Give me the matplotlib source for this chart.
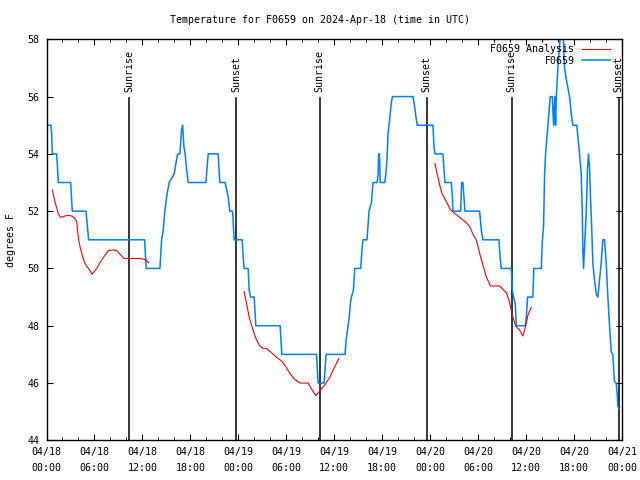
import matplotlib
matplotlib.use("Agg")
import matplotlib.pyplot as plt
import matplotlib.dates as mdates
import numpy as np
import pandas as pd

_BLUE = "#0080ff"
_RED = "#ff0000"
_FONT = "DejaVu Sans Mono"
_FS = 7.2

START = pd.Timestamp("2024-04-18 00:00")

# station observations: hours after 04/18 00:00 UTC, degrees F
obs_hours = [
    0.23, 0.56, 0.65, 0.73, 1.27, 1.48, 3.02, 3.23, 4.94, 5.27, 12.27, 12.48,
    14.19, 14.40, 14.60, 14.81, 15.03, 15.35, 15.98, 16.19, 16.40, 16.69, 16.90,
    17.03, 17.19, 17.35, 17.53, 17.73, 19.94, 20.23, 21.48, 21.69, 22.35, 22.73,
    22.94, 23.28, 23.48, 24.48, 24.63, 24.73, 25.23, 25.35, 25.53, 25.98, 26.19,
    29.23, 29.44, 33.78, 33.98, 34.73, 34.98, 37.35, 37.48, 37.73, 37.85, 38.03,
    38.15, 38.40, 38.56, 39.31, 39.48, 39.60, 40.10, 40.35, 40.65, 40.78, 40.85,
    41.35, 41.48, 41.56, 41.65, 41.75, 42.31, 42.44, 42.60, 42.73, 42.85, 43.03,
    43.15, 43.28, 45.85, 46.06, 46.19, 46.38, 48.35, 48.48, 48.60, 49.60, 49.73,
    49.85, 50.65, 50.78, 50.85, 51.81, 51.94, 52.10, 52.35, 54.19, 54.40, 54.60,
    56.60, 56.78, 56.90, 58.15, 58.28, 58.44, 58.65, 58.78, 59.90, 60.03, 60.19,
    60.85, 60.97, 61.90, 62.03, 62.19, 62.31, 62.44, 62.73, 63.03, 63.28, 63.44,
    63.60, 63.69, 63.78, 63.98, 64.19, 64.40, 64.60, 64.81, 65.03, 65.23, 65.44,
    65.65, 65.85, 66.35, 66.48, 66.69, 66.90, 67.03, 67.10, 67.19, 67.31, 67.53,
    67.69, 67.81, 67.94, 68.06, 68.19, 68.35, 68.56, 68.78, 68.98, 69.19, 69.40,
    69.60, 69.81, 70.03, 70.23, 70.44, 70.65, 70.85, 71.06, 71.28, 71.40, 71.48,
    71.60,
]
obs_temp = [
    55, 55, 54.7, 54, 54, 53, 53, 52, 52, 51, 51, 50,
    50, 51, 51.33, 52, 52.5, 53, 53.3, 53.67, 54, 54, 54.83,
    55, 54.25, 54, 53.44, 53, 53, 54, 54, 53, 53, 52.5,
    52, 52, 51, 51, 50.3, 50, 50, 49.25, 49, 49, 48,
    48, 47, 47, 46, 46, 47, 47, 47.5, 48, 48.25, 48.8,
    49, 49.25, 50, 50, 50.7, 51, 51, 52, 52.3, 52.75, 53,
    53, 53.25, 54, 54, 53, 53, 53.25, 53.8, 54.7, 55, 55.5,
    55.8, 56, 56, 55.65, 55.35, 55, 55, 54.25, 54, 54, 53.44,
    53, 53, 52.5, 52, 52, 53, 53, 52, 52, 51.33, 51,
    51, 50.3, 50, 50, 49.25, 49, 48.75, 48, 48, 48.3, 49,
    49, 50, 50, 50.93, 51.5, 53.26, 54, 55, 56, 56, 55,
    56, 55, 56, 57, 57.8, 58.5, 58.5, 57, 56.6, 56.3, 56,
    55.4, 55, 55, 54.6, 54, 53.3, 52, 50.7, 50, 50.7, 52,
    53.5, 54, 53.5, 52.45, 51.6, 50.2, 49.6, 49.1, 49, 49.6, 50.2,
    51, 51, 50.2, 49, 48, 47.1, 47, 46.05, 46, 45.6, 45.2,
    45.1,
]

# analysis runs, three separate pieces
ana_hours = [
    [0.73, 1.06, 1.48, 1.78, 2.31, 2.73, 3.15, 3.56, 3.78, 3.98, 4.19, 4.53,
     4.81, 5.23, 5.73, 6.28, 6.90, 7.73, 8.35, 8.78, 9.19, 9.69, 11.69, 12.44,
     12.78],
    [24.73, 25.03, 25.35, 25.78, 26.19, 26.69, 27.10, 27.53, 28.15, 28.78,
     29.40, 29.94, 30.44, 31.06, 31.69, 32.73, 33.15, 33.69, 34.19, 34.81,
     35.44, 36.06, 36.60],
    [48.60, 48.85, 49.19, 49.48, 50.03, 50.53, 50.94, 51.48, 52.10, 52.53,
     52.94, 53.35, 53.78, 54.19, 54.60, 55.03, 55.53, 56.69, 57.10, 57.53,
     57.85, 58.15, 58.35, 58.69, 59.19, 59.60, 59.94, 60.23, 60.65],
]
ana_temp = [
    [52.74, 52.33, 51.9, 51.78, 51.83, 51.86, 51.83, 51.75, 51.63, 51.1,
     50.76, 50.4, 50.18, 50.0, 49.8, 50.0, 50.3, 50.62, 50.65, 50.62, 50.5,
     50.35, 50.35, 50.3, 50.2],
    [49.19, 48.78, 48.31, 47.9, 47.56, 47.29, 47.21, 47.2, 47.06, 46.9,
     46.77, 46.57, 46.34, 46.13, 46.0, 46.0, 45.8, 45.56, 45.72, 45.93,
     46.2, 46.57, 46.86],
    [53.67, 53.32, 52.91, 52.62, 52.33, 52.06, 51.95, 51.83, 51.69, 51.6,
     51.46, 51.2, 50.99, 50.53, 50.12, 49.71, 49.39, 49.39, 49.27, 49.15,
     48.9, 48.55, 48.31, 47.99, 47.85, 47.64, 47.97, 48.37, 48.64],
]

sun_hours = [10.35, 23.70, 34.20, 47.55, 58.20, 71.60]
sun_labels = ["Sunrise", "Sunset", "Sunrise", "Sunset", "Sunrise", "Sunset"]


def _at(hours):
    return START + pd.to_timedelta(np.asarray(hours), unit="h")


fig = plt.figure(figsize=(6.4, 4.8), dpi=100, facecolor="white")
ax = fig.add_axes([46.5 / 640, 1 - 440.3 / 480, 575.5 / 640, 401 / 480])

for i, (h, t) in enumerate(zip(ana_hours, ana_temp)):
    ax.plot(_at(h), t, color=_RED, lw=0.8,
            label="F0659 Analysis" if i == 0 else None, zorder=3)
ax.plot(_at(obs_hours), obs_temp, color=_BLUE, lw=1.1, label="F0659", zorder=2)

for h, lab in zip(sun_hours, sun_labels):
    ax.plot(_at([h, h]), [44, 55.95], color="black", lw=1.1, zorder=1)
    ax.text(_at([h])[0], 56.15, lab, rotation=90, ha="center", va="bottom",
            fontsize=_FS, family=_FONT)

ax.set_xlim(_at([0])[0], _at([72])[0])
ax.set_ylim(44, 58)
ax.set_yticks(np.arange(44, 59, 2))

ax.xaxis.set_major_locator(mdates.HourLocator(byhour=range(0, 24, 6)))
ax.xaxis.set_minor_locator(mdates.HourLocator(byhour=range(0, 24, 2)))
ax.xaxis.set_major_formatter(mdates.DateFormatter("%m/%d\n%H:%M"))

ax.tick_params(which="both", direction="in", top=True, right=True,
               labelsize=_FS, width=0.8, color="black")
ax.tick_params(which="major", length=4)
ax.tick_params(which="minor", length=2.5)
ax.tick_params(axis="x", which="major", pad=4.5)
ax.tick_params(axis="y", which="major", pad=5)
for lbl in ax.get_xticklabels() + ax.get_yticklabels():
    lbl.set_family(_FONT)
for lbl in ax.get_xticklabels():
    lbl.set_linespacing(1.85)
for spine in ax.spines.values():
    spine.set_linewidth(1.0)

fig.text(320 / 640, 1 - 20 / 480, "Temperature for F0659 on 2024-Apr-18 (time in UTC)",
         ha="center", va="center", fontsize=_FS, family=_FONT)
fig.text(11 / 640, 0.5, "degrees F", rotation=90, ha="center", va="center",
         fontsize=_FS, family=_FONT)

leg = ax.legend(loc="upper right", bbox_to_anchor=(610 / 640, 1 - 44 / 480),
                bbox_transform=fig.transFigure, frameon=False, markerfirst=False,
                borderpad=0, borderaxespad=0, handlelength=2.8, handletextpad=0.75,
                labelspacing=0.15, prop={"family": _FONT, "size": _FS})

fig.savefig("out.png", dpi=100, facecolor="white")
